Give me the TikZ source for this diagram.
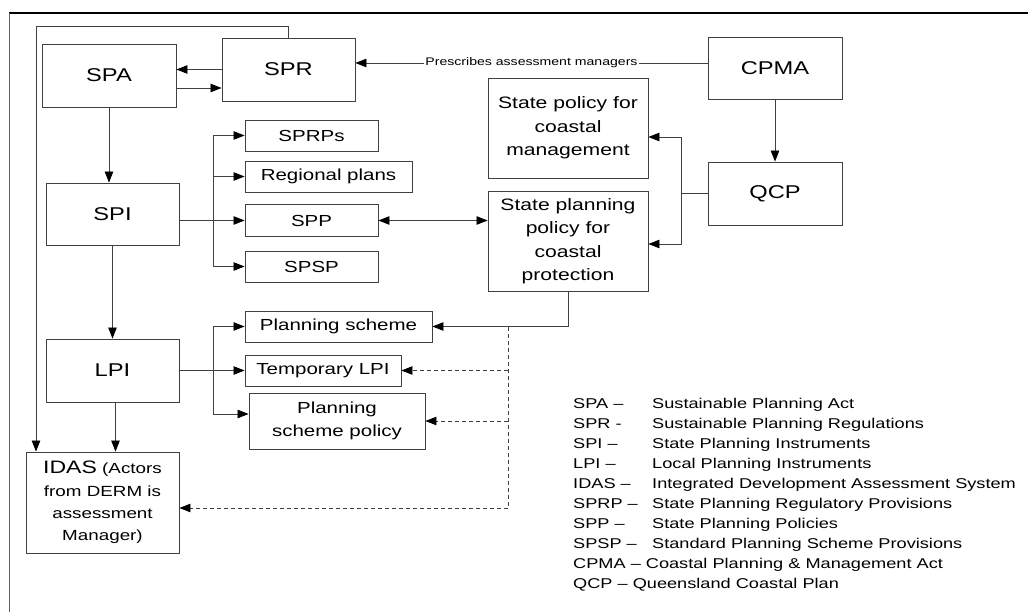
\documentclass[tikz,border=0pt]{standalone}
\usepackage{fontspec}
\setmainfont{Liberation Sans}[FakeStretch=1.28]
\usepackage{tikz}
\usetikzlibrary{arrows.meta}
\definecolor{linegray}{RGB}{64, 64, 64}
\definecolor{framegray}{RGB}{96, 96, 96}

\tikzset{
  box/.style={draw=linegray, line width=0.9pt, inner sep=0pt, align=center},
  bigtext/.style={font=\fontsize{18.5}{22}\selectfont},
  smalltext/.style={font=\fontsize{16}{23}\selectfont},
  idastext/.style={font=\fontsize{14.7}{22.3}\selectfont},
  legendtext/.style={font=\fontsize{14.2}{16}\selectfont, anchor=base west, inner sep=0pt},
  tip/.tip={Triangle[length=11pt,width=8.5pt,color=black]},
  arr/.style={draw=linegray, line width=0.8pt, -tip},
  dasharr/.style={arr, dashed, dash pattern=on 4pt off 3pt},
  link/.style={draw=linegray, line width=0.8pt}
}

\begin{document}
\begin{tikzpicture}[x=1pt, y=-1pt]
    \useasboundingbox (0,0) rectangle (1028,612);
    % outer frame
    \draw[black, line width=1.4pt] (9,13) -- (1028,13);
    \draw[framegray, line width=0.9pt] (9,13) -- (9,612);

    % main boxes
    \node[box, bigtext, minimum width=134pt, minimum height=63pt] (SPA) at (109,75.5) {SPA};
    \node[box, bigtext, minimum width=133pt, minimum height=63pt] (SPR) at (288.5,69.5) {SPR};
    \node[box, bigtext, minimum width=134pt, minimum height=62pt] (CPMA) at (775,68) {CPMA};
    \node[box, bigtext, minimum width=134pt, minimum height=63pt] (QCP) at (775,193.5) {QCP};
    \node[box, bigtext, minimum width=133pt, minimum height=62pt] (SPI) at (112.5,214) {SPI};
    \node[box, bigtext, minimum width=133pt, minimum height=63pt] (LPI) at (112.5,370.5) {LPI};
    \node[box, idastext, minimum width=153pt, minimum height=101pt] (IDAS) at (102.5,502.5)
        {{\fontsize{18}{22}\selectfont IDAS} (Actors\\from DERM is\\assessment\\Manager)};

    % state policies
    \node[box, font=\fontsize{16.5}{23.5}\selectfont, minimum width=160pt, minimum height=100pt] (SPCM) at (568,128)
        {State policy for\\coastal\\management};
    \node[box, font=\fontsize{16.5}{23.5}\selectfont, minimum width=160pt, minimum height=100pt] (SPPC) at (568,241)
        {State planning\\policy for\\coastal\\protection};

    % state planning instruments
    \node[box, smalltext, minimum width=133pt, minimum height=31pt] (SPRPs) at (311.5,135.5) {SPRPs};
    \node[box, smalltext, minimum width=167pt, minimum height=31pt] (regplans) at (328.5,176.5) {Regional plans};
    \node[box, smalltext, minimum width=133pt, minimum height=32pt] (SPP) at (311.5,220.5) {SPP};
    \node[box, smalltext, minimum width=133pt, minimum height=31pt] (SPSP) at (311.5,266.5) {SPSP};

    % local planning instruments
    \node[box, smalltext, minimum width=187pt, minimum height=31pt] (planscheme) at (338.5,326.5) {Planning scheme};
    \node[box, smalltext, minimum width=156pt, minimum height=31pt] (tempLPI) at (323,370.5) {Temporary LPI};
    \node[box, smalltext, minimum width=176pt, minimum height=56pt] (PSP) at (337,421) {Planning\\scheme policy};

    % shifted ends
    \coordinate (spaout) at ([yshift=-12.5pt]SPA.east);
    \coordinate (cpmaout) at ([yshift=5pt]CPMA.west);
    \coordinate (pspin) at ([yshift=7pt]PSP.west);
    \coordinate (idasin) at ([yshift=-5.5pt]IDAS.east);

    % connectors at the top
    \draw[arr] (SPR.west) -- (SPA.east |- SPR.west);
    \draw[arr] (spaout) -- (SPR.west |- spaout);
    \coordinate (loop) at (36,26);
    \draw[arr] (SPR.north) |- (loop) -- (loop |- IDAS.north);
    \draw[arr] (cpmaout) -- node[fill=white, inner sep=1pt, font=\fontsize{11}{12}\selectfont] {Prescribes assessment managers}
        (SPR.east |- cpmaout);
    \draw[arr] (CPMA.south) -- (QCP.north);
    \coordinate (qj) at (681,193.5);
    \draw[link] (QCP.west) -- (qj);
    \draw[arr] (qj) |- ([yshift=-9pt]SPCM.east);
    \draw[arr] (qj) |- ([yshift=-3pt]SPPC.east);

    % down the left column
    \draw[arr] (SPA.south) -- (SPA.south |- SPI.north);
    \draw[arr] (SPI.south) -- (LPI.north);
    \draw[arr] ([xshift=3pt]LPI.south) -- ([xshift=3pt]LPI.south |- IDAS.north);

    % state instruments branch
    \coordinate (sb) at (213,0);
    \draw[link] (SPI.east |- SPP.west) -- (sb |- SPP.west);
    \draw[link] (sb |- SPRPs.west) -- (sb |- SPSP.west);
    \foreach \n in {SPRPs, regplans, SPP, SPSP}
        \draw[arr] (sb |- \n.west) -- (\n.west);
    \draw[arr, tip-tip] (SPP.east) -- (SPPC.west |- SPP.east);

    % local instruments branch
    \draw[link] (LPI.east) -- (sb |- LPI.east);
    \draw[link] (sb |- planscheme.west) -- (sb |- pspin);
    \draw[arr] (sb |- planscheme.west) -- (planscheme.west);
    \draw[arr] (sb |- tempLPI.west) -- (tempLPI.west);
    \draw[arr] (sb |- pspin) -- (pspin);
    \draw[arr] (SPPC.south) |- (planscheme.east);

    % dashed links
    \coordinate (dj) at (508,0);
    \draw[link, dashed, dash pattern=on 4pt off 3pt] (dj |- planscheme.east) -- (dj |- idasin);
    \draw[dasharr] (dj |- tempLPI.east) -- (tempLPI.east);
    \draw[dasharr] (dj |- PSP.east) -- (PSP.east);
    \draw[dasharr] (dj |- idasin) -- (idasin);

    % legend
    \foreach \y/\abbr/\defn in {408/SPA --/Sustainable Planning Act,
                                428/SPR -/Sustainable Planning Regulations,
                                448/SPI --/State Planning Instruments,
                                468/LPI --/Local Planning Instruments,
                                488/IDAS --/Integrated Development Assessment System,
                                508/SPRP --/State Planning Regulatory Provisions,
                                528/SPP --/State Planning Policies,
                                548/SPSP --/Standard Planning Scheme Provisions} {
        \node[legendtext] (abbr-\y) at (573,\y) {\abbr};
        \node[legendtext] (defn-\y) at (652,\y) {\defn};
    }
    \node[legendtext] (abbr-568) at (573,568) {CPMA -- Coastal Planning \& Management Act};
    \node[legendtext] (abbr-588) at (573,588) {QCP -- Queensland Coastal Plan};
\end{tikzpicture}
\end{document}
